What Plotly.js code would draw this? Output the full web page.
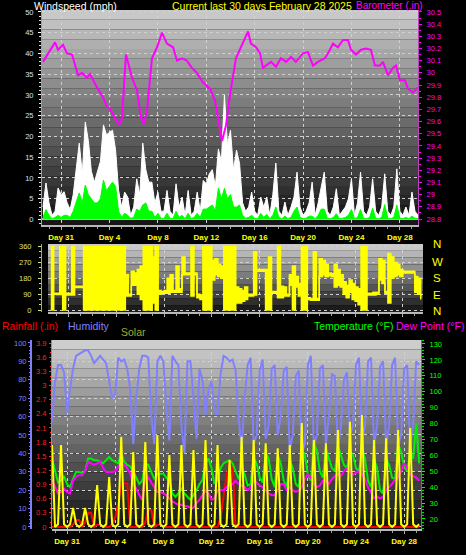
<!DOCTYPE html>
<html><head><meta charset="utf-8">
<script src="https://cdn.plot.ly/plotly-3.0.1.min.js"></script>
<style>html,body{margin:0;padding:0;background:#000;} #chart{width:466px;height:555px;}</style>
</head><body><div id="chart"></div>
<script>
// ---------- data ----------
const dayTickVals = [0,4,8,12,16,20,24,28];
const dayTickText = ["Day 31","Day 4","Day 8","Day 12","Day 16","Day 20","Day 24","Day 28"];

// top + middle panels: 6-hourly samples, first one at day -1.5 (days relative to Jan 31)
const topStart = -1.5;
const sampleStep = 0.25;

const windGust = [3,8.8,4,1, 2,7.6,6,6.7, 4,2.4,6,12, 18.4,11,23.5,19, 11.6,9,11.6,14, 22.8,20.4,21,21.5,
  16.8,7,3,6.6, 5.4,1,3,9.8, 6,18.4,12,9, 9,4,6.6,2, 2,7,2,1, 8.6,3,5.4,1, 7,1,2,6.6, 2,9.4,8.6,11,
  12,8,17,14, 30,18,21.5,12, 16.7,13.5,4,2, 3,6.6,2,1, 5.4,3,5.4,1, 6,13.6,2,1, 4.2,1,3,5.4,
  11.4,3,1,2, 4,9,1,4, 7.8,11.4,2,1, 3,7.4,1,2, 3,5,9.8,1, 4,11.4,2,1, 3,9.8,2,1, 3,11,2,1,
  3,12.2,2,1, 3,1,6.6,2, 1];
const windAvg = [0.5,2.4,1,0.2, 0.5,1,0.5,1, 1,0.5,2,4, 6.4,4,8.3,6, 5,4,4,5, 9.5,7,8,9, 8,2,0.5,1.5,
  1,0.3,0.5,2.5, 2,3.5,4,2, 2,0.5,1.5,0.3, 0.2,1.5,0.3,0.2, 2,0.5,1,0.2, 1.5,0.2,0.5,1.5, 0.5,2.5,2.5,3,
  3.5,2,7.6,5, 7.5,5,6,3, 3,3.5,1,0.3, 0.5,1,0.3,0.2, 1.5,0.5,1.2,0.2, 1,3,0.5,0.2, 0.8,0.2,0.5,2,
  3,0.5,0.2,0.3, 0.8,0.8,0.2,1, 2.5,2.5,0.3,0.2, 0.5,1.4,0.2,0.3, 0.5,1,2.4,0.2, 0.5,2.4,0.3,0.2,
  0.5,2.7,0.3,0.2, 0.5,3.6,0.3,0.2, 0.5,3.5,0.3,0.2, 0.5,0.2,0.8,0.3, 0.2];

const baroDay = [-1.50,-1.08,-0.50,-0.26,0.16,0.49,0.90,1.40,1.73,2.14,2.39,2.97,3.46,3.79,4.04,4.45,4.79,5.03,
  5.36,5.86,6.27,6.60,6.85,7.10,7.51,7.93,8.34,8.75,9.25,9.58,9.99,10.40,10.82,11.23,11.73,12.31,12.72,12.97,
  13.30,13.63,13.96,14.45,15.20,15.45,15.69,16.11,16.44,16.69,16.93,17.35,17.76,18.17,18.59,19.00,19.41,19.99,
  20.40,20.82,21.23,21.81,22.22,22.47,22.88,23.30,23.71,23.96,24.37,24.79,25.20,25.61,25.94,26.36,26.60,27.02,
  27.43,27.68,28.01,28.42,28.67,29.08,29.50];
const baroIn = [30.09,30.16,30.25,30.19,30.23,30.16,30.15,29.98,30.00,29.96,29.99,29.88,29.80,29.72,29.71,29.63,29.57,29.63,
  30.15,29.96,29.86,29.63,29.58,29.69,30.12,30.21,30.33,30.24,30.21,30.10,30.12,30.10,30.04,30.00,29.92,29.87,29.77,29.63,
  29.44,29.57,29.82,30.12,30.29,30.34,30.24,30.21,30.16,30.04,30.06,30.09,30.05,30.12,30.09,30.13,30.09,30.16,
  30.17,30.06,30.09,30.12,30.19,30.24,30.21,30.27,30.27,30.19,30.15,30.19,30.20,30.19,30.06,30.06,30.09,29.98,
  30.04,30.06,29.94,29.94,29.87,29.84,29.88];

// wind direction: lowest and highest direction seen in each 6-hour sample
const dirLow = [0,90,88,88,0,85,85,85,128,128,128,0,
  0,0,0,0,0,0,0,0,0,0,0,0,0,
  80,80,140,140,90,60,0,0,0,40,0,90,95,95,95,
  100,100,100,100,200,200,200,80,200,70,60,0,0,0,
  170,200,190,180,0,0,0,0,40,40,50,60,80,80,85,
  220,220,220,0,0,95,95,70,70,80,80,140,0,130,80,
  0,0,60,55,55,55,190,200,190,195,190,130,140,130,90,
  70,100,60,50,30,0,0,85,85,85,90,170,150,95,40,
  180,190,200,190,210,210,210,210,100,90,60];
const dirHigh = [360,95,95,360,360,95,95,360,134,134,134,360,
  360,360,360,360,360,360,360,360,360,360,360,360,360,
  200,90,220,210,230,250,360,360,360,300,360,110,105,110,180,
  200,110,250,120,300,210,210,360,210,90,85,360,360,360,
  280,290,260,250,360,360,360,360,130,120,110,130,90,90,330,
  230,230,230,230,300,105,105,360,135,130,90,200,250,190,150,
  360,360,70,65,330,65,290,280,260,210,205,260,230,200,160,
  140,170,150,130,120,360,360,95,95,100,100,290,280,105,320,
  300,270,260,230,220,220,220,220,190,180,80];
const compassText = ["N","W","S","E","N"];

// bottom panel: 6-hourly samples, first one at day -1.25
const botStart = -1.25;
const humidity = [57,79,88,88,84,62,75,86,93,94, 95,96,96,93,89,91,93,91,89,79, 70,72,92,90,91,86,75,45,70,86,
  93,93,92,60,45,90,93,90,65,47, 93,90,88,55,40,90,90,70,48,86, 80,61,75,79,63,61,83,93,92,90,
  91,85,60,42,70,88,92,45,50,85, 91,48,55,86,88,50,60,85,87,42, 50,82,85,40,45,88,93,44,50,86,
  88,45,60,83,82,43,55,80,84,50, 55,88,92,48,55,90,92,45,55,87, 90,44,55,88,92,45,50,86,88,45, 55,90,88];
const temperature = [58,50,43,44,47,42,40,45,49.5,49.5, 49,50,58,58,57,57,56,55,57,59, 57,56,55,61.5,56,54,53,50,46,42,
  44,55,54,50,45,48.5,48.5,48.5,46,44, 36,34,36,39,36,34,32,35,38,42, 44.5,55,58,52,42,44.5,52,55,56,57,
  55,50,45,52,48,41,42,58,55,46, 43,62,58,45,40,60,55,44,40,57, 52,42,40,64,60,48,44,68,63,50,
  46,64,58,52,50,66,60,54,52,62, 60,52,50,63,58,44,40,58,52,38, 36,58,54,46,45,67,62,53,50,62, 58,80,55];
const dewPoint = [44.5,40,36,37,39,37,36,44,46.5,47.5, 47.5,50,56,55,54,55,56,52,49.5,49.5, 49.5,50,53,55,54,52,48.5,42,39,35,
  32,47.5,46,43,40,37,37,36,35,33, 31,30,29,29,28,28,27,27,30,32, 35,38,36,32,33,38,38,38,40,41,
  42,44,42,41,40,38,40,44,43,41, 40,38,36,35,35,38,42,42,38,40, 38,37,38,40,45,48,46,42,40,41,
  44,44,42,45,47,48,47,50,52,50, 48,49,50,48,45,40,36,33,34,33, 34,38,40,42,45,46,50,55,52,48, 47,46,44];
const solar = [446,0,15,446,15,0,15,103,15,0, 15,103,15,0,15,228,15,0,15,272, 15,0,15,490,15,0,15,408,15,0,
  15,462,15,0,15,500,15,0,15,391, 15,0,15,446,15,0,15,418,15,0, 15,473,15,0,15,446,15,0,15,364,
  15,0,15,490,15,0,15,473,15,0, 15,455,15,0,15,428,15,0,15,446, 15,0,15,565,15,0,15,473,15,0,
  15,455,15,0,15,527,15,0,15,572, 15,0,15,609,15,0,15,473,15,0, 15,482,15,0,15,527,15,0,15,538, 15,0,15];
const rainfall = [0,0,0,0,0,0,0, 0.05,0.15,0.15,0,
  0.1,0.3,0.3,0,0.05,0.05,0,0,0,0.05,0.2,0.5,0.9,0.93,0.93,0,
  0,0,0,0, 0.1,0.36,0.36,0,0.05,0.05,
  0,0,0,0,0,0,0,0,0,0,0,0,0,0,0,0,0,0,0,
  0.2,0.6,1.1,1.36,1.38,
  0,0,0,0,0,0,0,0,0,0,0,0,0,0,0,0,0,0,0,0,0,0,0,0,0,0,0,0,0,0,0,
  0,0,0,0,0,0,0,0,0,0,0,0,0,0,0,0,0,0,0,0,0,0,0,0,0,0,0,0,0,0,0];

const windTicks = [0,5,10,15,20,25,30,35,40,45,50];
const baroTicks = [28.8,28.9,29,29.1,29.2,29.3,29.4,29.5,29.6,29.7,29.8,29.9,30,30.1,30.2,30.3,30.4,30.5];
const dirTicks = [0,90,180,270,360];
const humTicks = [0,10,20,30,40,50,60,70,80,90,100];
const rainTicks = [0,0.3,0.6,0.9,1.2,1.5,1.8,2.1,2.4,2.7,3,3.3,3.6,3.9];
const tempTicks = [20,30,40,50,60,70,80,90,100,110,120,130];

// ---------- layout helpers ----------
const W = 466, H = 555;
const px = v => v / W;
const py = v => 1 - v / H;
const FONT = 'Liberation Sans, Arial, Helvetica, sans-serif';

function bands(x0, x1, y0, y1, cTop, cBot, n) {
  const out = [];
  for (let k = 0; k < n; k++) {
    const t = k / (n - 1);
    const c = Math.round(cTop + (cBot - cTop) * t);
    out.push({type:'rect', xref:'paper', yref:'paper', layer:'below',
      x0:px(x0), x1:px(x1), y0:py(y0 + (y1 - y0) * k / n), y1:py(y0 + (y1 - y0) * (k + 1) / n),
      fillcolor:`rgb(${c},${c},${c})`, line:{width:0}});
  }
  return out;
}

const shapes = [].concat(
  bands(42, 418, 10, 225, 200, 22, 22),
  bands(48, 423, 244, 312, 200, 28, 10),
  bands(52, 421, 340, 529, 205, 22, 20)
);

function ann(text, x, y, color, anchor, size, vanchor) {
  return {text:text, xref:'paper', yref:'paper', x:px(x), y:py(y), xanchor:anchor || 'left', yanchor:vanchor || 'middle',
    showarrow:false, borderpad:0, font:{family:FONT, size:size || 10.5, color:color}};
}
const compassY = [244, 261.5, 278, 295, 311];
const annotations = [
  ann('Windspeed (mph)', 33, -1.5, '#ffffff', 'left', 10.5, 'top'),
  ann('Current last 30 days February 28 2025', 262, -1.5, '#ffff00', 'center', 10.5, 'top'),
  ann('Barometer (.in)', 355, -1.5, '#ff00ff', 'left', 10, 'top'),
  ann('Rainfall (.in)', 1, 325.5, '#ff0000'),
  ann('Humidity', 67, 325.5, '#8080ff'),
  ann('Solar', 120, 332, '#a8a830'),
  ann('Temperature (°F)', 313, 326, '#00ff00'),
  ann('Dew Point (°F)', 395, 326, '#ff00ff')
].concat(compassText.map((t, k) => ann(t, 437, compassY[k], '#ffff00', 'center', 11.5)));

const grid = {gridcolor:'#d0d0d0', griddash:'dot', gridwidth:1};
const xDays = Object.assign({tickvals:dayTickVals, ticktext:dayTickText, ticks:'outside', ticklen:3, tickcolor:'#b0b0b0',
  tickfont:{family:FONT, size:8, color:'#ffff00', weight:'bold'}, showline:true, linecolor:'#b8b8b8', linewidth:2,
  zeroline:false, minor:{dtick:1, ticks:'outside', ticklen:2, tickcolor:'#a0a0a0'}}, grid);

const layout = {
  width:W, height:H, margin:{l:0, r:0, t:0, b:0},
  paper_bgcolor:'#000000', plot_bgcolor:'rgba(0,0,0,0)',
  showlegend:false, hovermode:false,
  font:{family:FONT, size:8, color:'#ffffff'},
  xaxis: Object.assign({}, xDays, {domain:[px(42), px(418)], range:[-1.58, 29.5], anchor:'y'}),
  yaxis: Object.assign({domain:[py(225), py(10)], range:[-1.33, 50.48], tickvals:windTicks,
    tickfont:{family:FONT, size:7.5, color:'#d0e0ff'}, ticks:'outside', ticklen:3, tickcolor:'#ffffff', ticklabelstandoff:3,
    showline:true, linecolor:'#a0a0a0', zeroline:true, zerolinecolor:'#b8b8b8', zerolinewidth:2,
    minor:{dtick:1, ticks:'outside', ticklen:2, tickcolor:'#e0e0e0'}}, grid),
  yaxis2: {overlaying:'y', side:'right', anchor:'x', range:[28.751, 30.516], tickvals:baroTicks,
    ticktext:baroTicks.map(v => String(v)), tickfont:{family:FONT, size:7.5, color:'#ff00ff'},
    ticks:'outside', ticklen:3, tickcolor:'#ff00ff', ticklabelstandoff:3, showgrid:false, zeroline:false,
    showline:true, linecolor:'#c040c0', minor:{dtick:0.05, ticks:'outside', ticklen:2, tickcolor:'#ff00ff'}},
  xaxis2: Object.assign({}, xDays, {domain:[px(48), px(423)], range:[-1.73, 29.69], anchor:'y3', showticklabels:false}),
  yaxis3: Object.assign({domain:[py(312), py(244)], range:[-11.3, 374.2], tickvals:dirTicks,
    tickfont:{family:FONT, size:7.5, color:'#e0e070'}, ticks:'outside', ticklen:3, tickcolor:'#e0e070', ticklabelstandoff:5,
    showline:true, linecolor:'#a0a0a0', zeroline:false,
    minor:{dtick:30, ticks:'outside', ticklen:2, tickcolor:'#e0e070'}}, grid),
  xaxis3: Object.assign({}, xDays, {domain:[px(52), px(421)], range:[-1.25, 29.4], anchor:'y4'}),
  yaxis4: Object.assign({domain:[py(529), py(340)], range:[-1.09, 101.6], anchor:'free', position:px(31), side:'left',
    tickvals:humTicks, tickfont:{family:FONT, size:7.5, color:'#8080ff'}, ticks:'outside', ticklen:2, tickcolor:'#8080ff',
    showline:true, linecolor:'#8080ff', linewidth:2, zeroline:false,
    minor:{dtick:2, ticks:'outside', ticklen:1, tickcolor:'#8080ff'}}, grid),
  yaxis5: {overlaying:'y4', anchor:'free', position:px(51), side:'left', range:[-0.042, 3.964], tickvals:rainTicks,
    ticktext:rainTicks.map(v => String(v)), tickfont:{family:FONT, size:7.5, color:'#ff2020'},
    ticks:'outside', ticklen:2, tickcolor:'#ff3030', ticklabelstandoff:1, showgrid:false, zeroline:false,
    showline:true, linecolor:'#ff6060', minor:{dtick:0.1, ticks:'outside', ticklen:1, tickcolor:'#ff3030'}},
  yaxis6: {overlaying:'y4', side:'right', anchor:'x3', range:[13.71, 132.51], tickvals:tempTicks,
    tickfont:{family:FONT, size:7.5, color:'#00ff00'}, ticks:'outside', ticklen:3, tickcolor:'#00ff00', ticklabelstandoff:3,
    showgrid:false, zeroline:false, showline:true, linecolor:'#00c000',
    minor:{dtick:2, ticks:'outside', ticklen:2, tickcolor:'#00e000'}},
  yaxis7: {overlaying:'y4', range:[-10.9, 1016.3], visible:false},
  shapes: shapes,
  annotations: annotations
};

const base = {type:'scatter', mode:'lines', hoverinfo:'skip'};
const traces = [
  Object.assign({}, base, {x0:topStart, dx:sampleStep, y:windGust, xaxis:'x', yaxis:'y', fill:'tozeroy',
    fillcolor:'#ffffff', line:{color:'#ffffff', width:1}}),
  Object.assign({}, base, {x0:topStart, dx:sampleStep, y:windAvg, xaxis:'x', yaxis:'y', fill:'tozeroy',
    fillcolor:'#00ff00', line:{color:'#00ff00', width:1}}),
  Object.assign({}, base, {x:baroDay, y:baroIn, xaxis:'x', yaxis:'y2', line:{color:'#ff00ff', width:2}}),
  Object.assign({}, base, {x0:topStart, dx:sampleStep, y:dirLow, xaxis:'x2', yaxis:'y3',
    line:{color:'#ffff00', width:1.5, shape:'hv'}}),
  Object.assign({}, base, {x0:topStart, dx:sampleStep, y:dirHigh, xaxis:'x2', yaxis:'y3', fill:'tonexty',
    fillcolor:'#ffff00', line:{color:'#ffff00', width:1.5, shape:'hv'}}),
  Object.assign({}, base, {x0:botStart, dx:sampleStep, y:humidity, xaxis:'x3', yaxis:'y4', line:{color:'#8080ff', width:2}}),
  Object.assign({}, base, {x0:botStart, dx:sampleStep, y:rainfall, xaxis:'x3', yaxis:'y5', line:{color:'#ff0000', width:2}}),
  Object.assign({}, base, {x0:botStart, dx:sampleStep, y:temperature, xaxis:'x3', yaxis:'y6', line:{color:'#00ee00', width:2}}),
  Object.assign({}, base, {x0:botStart, dx:sampleStep, y:dewPoint, xaxis:'x3', yaxis:'y6', line:{color:'#ff00ff', width:2}}),
  Object.assign({}, base, {x0:botStart, dx:sampleStep, y:solar, xaxis:'x3', yaxis:'y7', line:{color:'#ffff00', width:2}})
];

Plotly.newPlot('chart', traces, layout, {staticPlot:true, displayModeBar:false});
</script>
</body></html>
